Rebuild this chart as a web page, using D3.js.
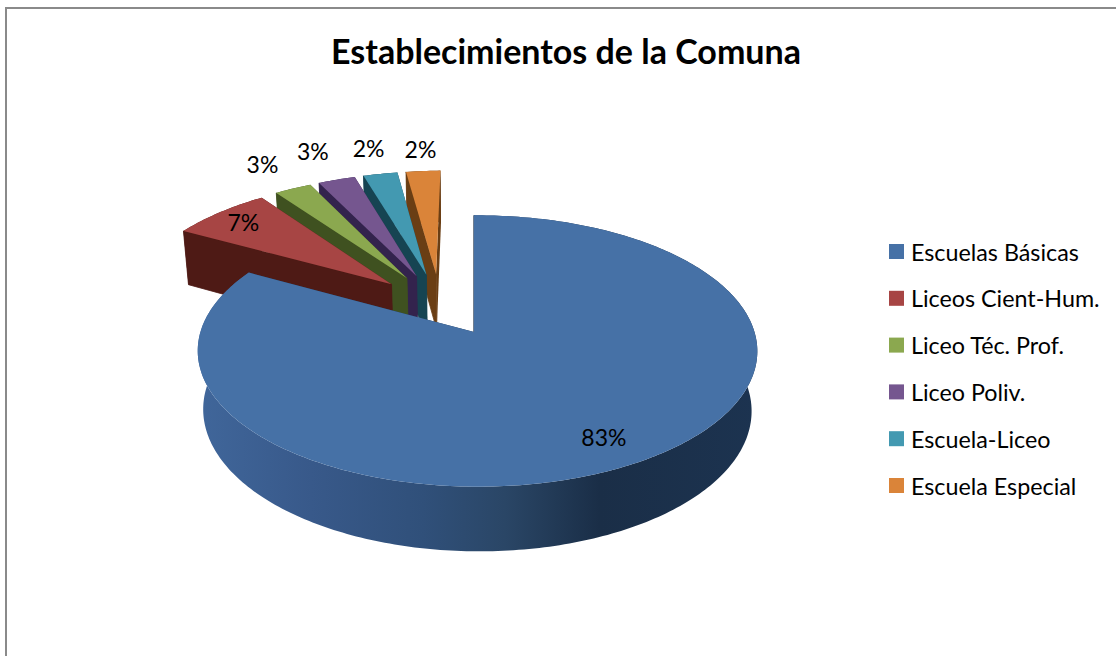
<!DOCTYPE html>
<html>
<head>
<meta charset="utf-8">
<script src="https://cdn.jsdelivr.net/npm/d3@7"></script>
<style>
body { margin: 0; background: #fff; }
svg { display: block; }
text { font-family: Lato, "Open Sans", sans-serif; fill: #000; }
</style>
</head>
<body>
<div id="chart"></div>
<script>
// chart values, small slices estimated from their size in the picture
var categories = ["Escuelas Básicas", "Liceos Cient-Hum.", "Liceo Téc. Prof.", "Liceo Poliv.", "Escuela-Liceo", "Escuela Especial"];
var values = [83, 7, 2.6, 2.6, 2.4, 2.4];
var title = "Establecimientos de la Comuna";

// colours per slice: top face and side wall
var topColors = ["#4671a6", "#a74544", "#8ba84f", "#75568f", "#4399b1", "#da8439"];
var wallColors = ["#1f3652", "#4e1a15", "#3f5120", "#33234d", "#164452", "#6a3e14"];

var width = 1116;
var height = 656;

// perspective of the disc, unit circle -> pixels
var x0 = 474, y0 = 332;
var fx = 277, fy = 133, fz = 60;
var kv = 0.14, ku = -0.0125, kz = 0.02;
var explode = 0.25;

// how far out along the slice the label sits (1 = rim)
var labelRadius = [0.825, 0.85, 1.31, 1.35, 1.3, 1.25];

function project(p) {
    var w = 1 + kv * p.v + ku * p.u + kz * p.z;
    return [x0 + fx * p.u / w, y0 + (-fy * p.v + fz * p.z) / w];
}

var svg = d3.select("#chart")
    .append("svg")
    .attr("width", width)
    .attr("height", height);

// frame
svg.append("rect")
    .attr("x", 6).attr("y", 8)
    .attr("width", width + 20).attr("height", height + 20)
    .attr("fill", "#fff")
    .attr("stroke", "#8a8a8a")
    .attr("stroke-width", 2);

var pie = d3.pie().sort(null).value(function (d) { return d; });
var slices = pie(values);
var line = d3.line();

// wall gradient on the big slice
var grad = svg.append("defs").append("linearGradient")
    .attr("id", "wallBlue")
    .attr("gradientUnits", "userSpaceOnUse")
    .attr("x1", 200).attr("x2", 755).attr("y1", 0).attr("y2", 0);
grad.selectAll("stop")
    .data([[0, "#40669a"], [0.2, "#38598a"], [0.4, "#30507a"], [0.55, "#2a4666"], [0.72, "#1a2e47"], [1, "#1c3350"]])
    .enter().append("stop")
    .attr("offset", function (d) { return d[0]; })
    .attr("stop-color", function (d) { return d[1]; });

// centre of a slice: pulled out from the pie centre, measured from the big slice
var blueMid = (slices[0].startAngle + slices[0].endAngle) / 2;
function sliceCenter(s) {
    var mid = (s.startAngle + s.endAngle) / 2;
    return {
        u: explode * (Math.sin(mid) - Math.sin(blueMid)),
        v: explode * (Math.cos(mid) - Math.cos(blueMid))
    };
}

function arcPoints(s, z) {
    var c = sliceCenter(s);
    var n = Math.ceil((s.endAngle - s.startAngle) * 60);
    return d3.range(n + 1).map(function (i) {
        var a = s.startAngle + (s.endAngle - s.startAngle) * i / n;
        return project({ u: c.u + Math.sin(a), v: c.v + Math.cos(a), z: z });
    });
}

function radialWall(s, angle) {
    var c = sliceCenter(s);
    var rim = { u: c.u + Math.sin(angle), v: c.v + Math.cos(angle) };
    return [
        project({ u: c.u, v: c.v, z: 0 }),
        project({ u: rim.u, v: rim.v, z: 0 }),
        project({ u: rim.u, v: rim.v, z: 1 }),
        project({ u: c.u, v: c.v, z: 1 })
    ];
}

// painter's order: back slices first, the big one last
var order = d3.range(slices.length).reverse();
var g = svg.append("g");
order.forEach(function (i) {
    var s = slices[i];
    var c = project(Object.assign(sliceCenter(s), { z: 0 }));

    g.append("path")
        .attr("d", line(radialWall(s, s.endAngle)) + "Z")
        .attr("fill", wallColors[i]);

    g.append("path")
        .attr("d", line(arcPoints(s, 0).concat(arcPoints(s, 1).reverse())) + "Z")
        .attr("fill", i == 0 ? "url(#wallBlue)" : wallColors[i]);

    g.append("path")
        .attr("d", line(radialWall(s, s.startAngle)) + "Z")
        .attr("fill", wallColors[i])
        .attr("stroke", wallColors[i])
        .attr("stroke-width", 0.8);

    g.append("path")
        .attr("d", line([c].concat(arcPoints(s, 0))) + "Z")
        .attr("fill", topColors[i]);
});

// percent labels
slices.forEach(function (s, i) {
    var c = sliceCenter(s);
    var mid = (s.startAngle + s.endAngle) / 2;
    var p = project({ u: c.u + labelRadius[i] * Math.sin(mid), v: c.v + labelRadius[i] * Math.cos(mid), z: 0 });
    svg.append("text")
        .attr("x", p[0]).attr("y", p[1])
        .attr("text-anchor", "middle")
        .attr("dominant-baseline", "central")
        .style("font-size", "23px")
        .text(Math.round(values[i]) + "%");
});

svg.append("text")
    .attr("x", 566).attr("y", 64)
    .attr("text-anchor", "middle")
    .style("font-size", "34px")
    .style("font-weight", "bold")
    .text(title);

// legend
var legendY = d3.scalePoint().domain(categories).range([251.5, 485.5]);
var legend = svg.append("g").selectAll("g")
    .data(categories)
    .enter().append("g")
    .attr("transform", function (d) { return "translate(889," + legendY(d) + ")"; });

legend.append("rect")
    .attr("y", -7.5).attr("width", 15).attr("height", 15)
    .attr("fill", function (d, i) { return topColors[i]; });

legend.append("text")
    .attr("x", 22)
    .attr("dominant-baseline", "central")
    .style("font-size", "23.3px")
    .text(function (d) { return d; });
</script>
</body>
</html>
